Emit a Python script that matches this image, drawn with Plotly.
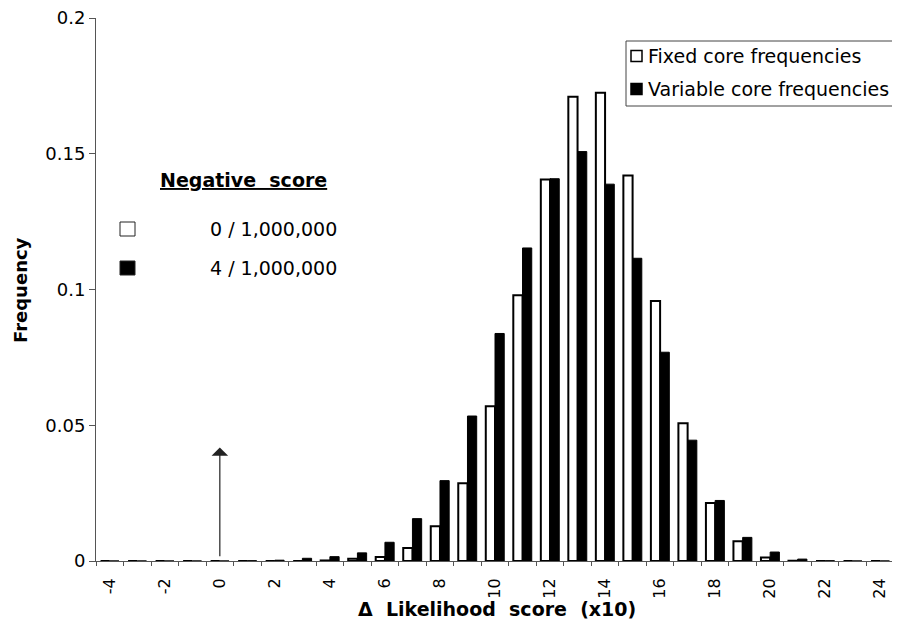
import plotly.graph_objects as go

# ---- data ----
scores = list(range(-4, 25))
fixed_freq = [0, 0, 0, 0, 0, 0, 0, 0, 0.0002, 0.0008, 0.0015, 0.0048, 0.0128,
              0.0286, 0.057, 0.0979, 0.1405, 0.171, 0.1725, 0.142, 0.0958, 0.0507,
              0.0214, 0.0073, 0.0013, 0.0001, 0, 0, 0]
variable_freq = [0, 0, 0, 0, 0, 0.0001, 0.0003, 0.001, 0.0016, 0.003, 0.0069, 0.0156,
                 0.0296, 0.0534, 0.0838, 0.1153, 0.1408, 0.1508, 0.1388, 0.1115,
                 0.0769, 0.0445, 0.0223, 0.0087, 0.0033, 0.0007, 0.0001, 0, 0]

x_tick_vals = list(range(-4, 25, 2))
x_tick_text = [str(v) for v in x_tick_vals]
y_tick_vals = [0, 0.05, 0.1, 0.15, 0.2]
y_tick_text = ["0", "0.05", "0.1", "0.15", "0.2"]
series_names = ["Fixed core frequencies", "Variable core frequencies"]
neg_title = "Negative  score"
neg_counts = ["0 / 1,000,000", "4 / 1,000,000"]
arrow_score = 0

FONT = "DejaVu Sans"
OFF = 8                      # browser body margin
W, H = 900 - OFF, 630 - OFF
# plot area in page pixels
PL, PR, PT, PB = 96, 894, 18, 561
L, R, T, B = PL - OFF, PR - OFF, PT - OFF, PB - OFF


def px(xp):
    return (xp - PL) / (PR - PL)


def py(yp):
    return (PB - yp) / (PB - PT)


fig = go.Figure()
fig.add_trace(go.Bar(x=scores, y=fixed_freq, name=series_names[0],
                     marker=dict(color="white", line=dict(color="black", width=2)),
                     showlegend=False))
fig.add_trace(go.Bar(x=scores, y=variable_freq, name=series_names[1],
                     marker=dict(color="black", line=dict(color="black", width=1)),
                     showlegend=False))

shapes = []
annotations = []

# legend box (top right)
shapes.append(dict(type="rect", xref="paper", yref="paper",
                   x0=px(626), x1=px(910), y0=py(106), y1=py(41),
                   line=dict(color="#444", width=1), fillcolor="rgba(0,0,0,0)"))
for i, (name, fill) in enumerate(zip(series_names, ["white", "black"])):
    cy = [56, 89][i]
    shapes.append(dict(type="rect", xref="paper", yref="paper",
                       x0=px(631), x1=px(642), y0=py(cy + 5.5), y1=py(cy - 5.5),
                       line=dict(color="black", width=1.5), fillcolor=fill))
    annotations.append(dict(xref="paper", yref="paper", x=px(646), y=py(cy),
                            xanchor="left", yanchor="middle", showarrow=False,
                            text=name, font=dict(family=FONT, size=19, color="black")))

# negative score inset
annotations.append(dict(xref="paper", yref="paper", x=px(243), y=py(180),
                        xanchor="center", yanchor="middle", showarrow=False,
                        text="<b><u>" + neg_title.replace(" ", "\u00a0") + "</u></b>",
                        font=dict(family=FONT, size=19, color="black")))
for i, (txt, fill) in enumerate(zip(neg_counts, ["white", "black"])):
    cy = [229, 268][i]
    shapes.append(dict(type="rect", xref="paper", yref="paper",
                       x0=px(120), x1=px(135), y0=py(cy + 7), y1=py(cy - 7),
                       line=dict(color="#222", width=1), fillcolor=fill))
    annotations.append(dict(xref="paper", yref="paper", x=px(339), y=py(cy),
                            xanchor="right", yanchor="middle", showarrow=False,
                            text=txt.replace(" ", "\u00a0"),
                            font=dict(family=FONT, size=19, color="black")))

# arrow at score 0
annotations.append(dict(x=arrow_score, y=0.0418, ax=arrow_score, ay=0.0012,
                        xref="x", yref="y", axref="x", ayref="y", text="",
                        showarrow=True, arrowhead=1, arrowsize=2.3, arrowwidth=1.2,
                        arrowcolor="#222", standoff=0, startstandoff=0))

# axis titles
annotations.append(dict(xref="paper", yref="paper", x=px(20), y=py(290),
                        xanchor="center", yanchor="middle", showarrow=False,
                        textangle=-90, text="<b>Frequency</b>", borderpad=0,
                        font=dict(family=FONT, size=18, color="black")))
annotations.append(dict(xref="paper", yref="paper", x=px(497), y=py(609),
                        xanchor="center", yanchor="middle", showarrow=False,
                        text="<b>\u0394\u00a0\u00a0Likelihood\u00a0\u00a0score\u00a0\u00a0(x10)</b>",
                        font=dict(family=FONT, size=19, color="black")))

fig.update_layout(
    width=W, height=H,
    margin=dict(l=L, r=W - R, t=T, b=H - B, pad=0, autoexpand=False),
    paper_bgcolor="white", plot_bgcolor="white",
    barmode="group", bargap=0.33, bargroupgap=0,
    font=dict(family=FONT, size=17, color="black"),
    shapes=shapes, annotations=annotations,
    xaxis=dict(range=[-4.5, 24.5], tickmode="array", tickvals=x_tick_vals,
               ticktext=x_tick_text, tickangle=-90, ticks="outside", ticklen=10,
               tickcolor="rgba(0,0,0,0)", showgrid=False, zeroline=False,
               showline=True, linecolor="#555", linewidth=1,
               tickfont=dict(family=FONT, size=16, color="black"),
               minor=dict(tickmode="array", tickvals=[s - 0.5 for s in scores] + [24.5],
                          ticks="outside", ticklen=4, tickcolor="#555", showgrid=False)),
    yaxis=dict(range=[0, 0.2], tickmode="array", tickvals=y_tick_vals,
               ticktext=y_tick_text, ticks="outside", ticklen=6, tickcolor="#555",
               ticklabeloverflow="allow",
               showgrid=False, zeroline=False, showline=True, linecolor="#555",
               linewidth=1, tickfont=dict(family=FONT, size=18, color="black")),
)

fig.write_html("out.html")
